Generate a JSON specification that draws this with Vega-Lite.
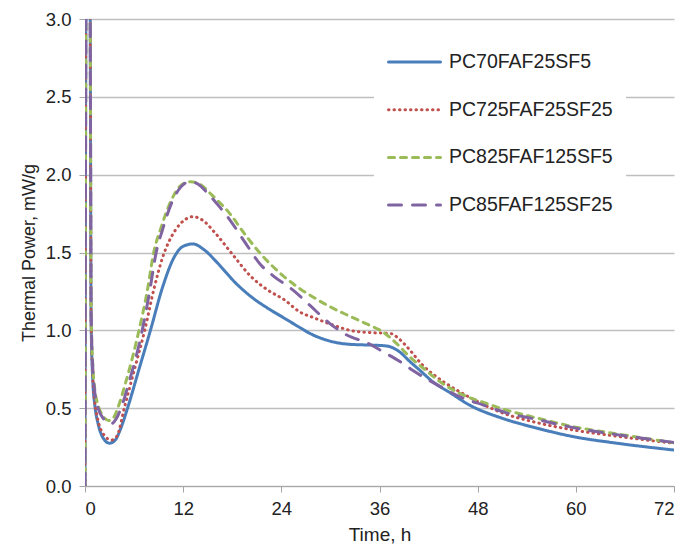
{
"$schema": "https://vega.github.io/schema/vega-lite/v6.json",
"width": 589, "height": 467,
"autosize": {"type": "none"},
"padding": {"left": 85, "top": 19, "right": 14, "bottom": 64},
"background": "white",
"config": {"font": "Liberation Sans", "view": {"stroke": null}},
"datasets": {"raw": [
{"s":"PC70FAF25SF5","t":0,"p":0},{"s":"PC70FAF25SF5","t":0.15,"p":3.4},{"s":"PC70FAF25SF5","t":0.6,"p":3.4},{"s":"PC70FAF25SF5","t":0.75,"p":1.05},{"s":"PC70FAF25SF5","t":0.95,"p":0.68},{"s":"PC70FAF25SF5","t":1.2,"p":0.52},{"s":"PC70FAF25SF5","t":1.6,"p":0.40},{"s":"PC70FAF25SF5","t":2.2,"p":0.31},{"s":"PC70FAF25SF5","t":3.0,"p":0.275},{"s":"PC70FAF25SF5","t":3.7,"p":0.295},{"s":"PC70FAF25SF5","t":4.3,"p":0.36},{"s":"PC70FAF25SF5","t":5.2,"p":0.5},{"s":"PC70FAF25SF5","t":6.6,"p":0.75},{"s":"PC70FAF25SF5","t":8.0,"p":1.0},{"s":"PC70FAF25SF5","t":9.5,"p":1.28},{"s":"PC70FAF25SF5","t":10.9,"p":1.47},{"s":"PC70FAF25SF5","t":12.0,"p":1.54},{"s":"PC70FAF25SF5","t":13.2,"p":1.555},{"s":"PC70FAF25SF5","t":14.5,"p":1.52},{"s":"PC70FAF25SF5","t":16.25,"p":1.43},{"s":"PC70FAF25SF5","t":18.3,"p":1.31},{"s":"PC70FAF25SF5","t":20.3,"p":1.216},{"s":"PC70FAF25SF5","t":22.4,"p":1.14},{"s":"PC70FAF25SF5","t":24.4,"p":1.077},{"s":"PC70FAF25SF5","t":26.2,"p":1.02},{"s":"PC70FAF25SF5","t":27.5,"p":0.98},{"s":"PC70FAF25SF5","t":30,"p":0.93},{"s":"PC70FAF25SF5","t":32.4,"p":0.91},{"s":"PC70FAF25SF5","t":35,"p":0.905},{"s":"PC70FAF25SF5","t":36.8,"p":0.9},{"s":"PC70FAF25SF5","t":38.5,"p":0.86},{"s":"PC70FAF25SF5","t":39.7,"p":0.8},{"s":"PC70FAF25SF5","t":40.9,"p":0.745},{"s":"PC70FAF25SF5","t":42.5,"p":0.67},{"s":"PC70FAF25SF5","t":44.6,"p":0.6},{"s":"PC70FAF25SF5","t":47,"p":0.52},{"s":"PC70FAF25SF5","t":51,"p":0.435},{"s":"PC70FAF25SF5","t":55,"p":0.375},{"s":"PC70FAF25SF5","t":59.7,"p":0.317},{"s":"PC70FAF25SF5","t":65,"p":0.275},{"s":"PC70FAF25SF5","t":72,"p":0.231},
{"s":"PC725FAF25SF25","t":0,"p":0},{"s":"PC725FAF25SF25","t":0.15,"p":3.4},{"s":"PC725FAF25SF25","t":0.6,"p":3.4},{"s":"PC725FAF25SF25","t":0.75,"p":1.05},{"s":"PC725FAF25SF25","t":0.95,"p":0.7},{"s":"PC725FAF25SF25","t":1.2,"p":0.54},{"s":"PC725FAF25SF25","t":1.6,"p":0.42},{"s":"PC725FAF25SF25","t":2.3,"p":0.33},{"s":"PC725FAF25SF25","t":3.2,"p":0.295},{"s":"PC725FAF25SF25","t":3.9,"p":0.32},{"s":"PC725FAF25SF25","t":4.8,"p":0.5},{"s":"PC725FAF25SF25","t":6.0,"p":0.74},{"s":"PC725FAF25SF25","t":7.3,"p":1.0},{"s":"PC725FAF25SF25","t":8.4,"p":1.26},{"s":"PC725FAF25SF25","t":9.5,"p":1.47},{"s":"PC725FAF25SF25","t":11,"p":1.64},{"s":"PC725FAF25SF25","t":12.2,"p":1.71},{"s":"PC725FAF25SF25","t":13.2,"p":1.73},{"s":"PC725FAF25SF25","t":14.3,"p":1.71},{"s":"PC725FAF25SF25","t":16,"p":1.62},{"s":"PC725FAF25SF25","t":18,"p":1.49},{"s":"PC725FAF25SF25","t":20.3,"p":1.345},{"s":"PC725FAF25SF25","t":22.3,"p":1.26},{"s":"PC725FAF25SF25","t":24.4,"p":1.195},{"s":"PC725FAF25SF25","t":26.2,"p":1.12},{"s":"PC725FAF25SF25","t":28,"p":1.08},{"s":"PC725FAF25SF25","t":30,"p":1.04},{"s":"PC725FAF25SF25","t":32.4,"p":1.0},{"s":"PC725FAF25SF25","t":35,"p":0.985},{"s":"PC725FAF25SF25","t":37.3,"p":0.98},{"s":"PC725FAF25SF25","t":38.5,"p":0.94},{"s":"PC725FAF25SF25","t":39.7,"p":0.874},{"s":"PC725FAF25SF25","t":41.2,"p":0.78},{"s":"PC725FAF25SF25","t":43,"p":0.70},{"s":"PC725FAF25SF25","t":45,"p":0.63},{"s":"PC725FAF25SF25","t":47,"p":0.57},{"s":"PC725FAF25SF25","t":51,"p":0.47},{"s":"PC725FAF25SF25","t":55,"p":0.41},{"s":"PC725FAF25SF25","t":59.7,"p":0.36},{"s":"PC725FAF25SF25","t":65,"p":0.32},{"s":"PC725FAF25SF25","t":72,"p":0.274},
{"s":"PC825FAF125SF5","t":0,"p":0},{"s":"PC825FAF125SF5","t":0.15,"p":3.4},{"s":"PC825FAF125SF5","t":0.6,"p":3.4},{"s":"PC825FAF125SF5","t":0.75,"p":1.1},{"s":"PC825FAF125SF5","t":0.95,"p":0.78},{"s":"PC825FAF125SF5","t":1.2,"p":0.62},{"s":"PC825FAF125SF5","t":1.6,"p":0.52},{"s":"PC825FAF125SF5","t":2.2,"p":0.45},{"s":"PC825FAF125SF5","t":2.9,"p":0.42},{"s":"PC825FAF125SF5","t":3.5,"p":0.44},{"s":"PC825FAF125SF5","t":4.0,"p":0.5},{"s":"PC825FAF125SF5","t":5.0,"p":0.67},{"s":"PC825FAF125SF5","t":6.6,"p":1.0},{"s":"PC825FAF125SF5","t":7.6,"p":1.25},{"s":"PC825FAF125SF5","t":8.4,"p":1.5},{"s":"PC825FAF125SF5","t":9.3,"p":1.66},{"s":"PC825FAF125SF5","t":10.5,"p":1.83},{"s":"PC825FAF125SF5","t":11.7,"p":1.93},{"s":"PC825FAF125SF5","t":12.9,"p":1.955},{"s":"PC825FAF125SF5","t":14,"p":1.94},{"s":"PC825FAF125SF5","t":15.5,"p":1.87},{"s":"PC825FAF125SF5","t":17.7,"p":1.75},{"s":"PC825FAF125SF5","t":19.5,"p":1.62},{"s":"PC825FAF125SF5","t":21.5,"p":1.49},{"s":"PC825FAF125SF5","t":24,"p":1.36},{"s":"PC825FAF125SF5","t":26.2,"p":1.27},{"s":"PC825FAF125SF5","t":28,"p":1.21},{"s":"PC825FAF125SF5","t":30,"p":1.15},{"s":"PC825FAF125SF5","t":32.4,"p":1.09},{"s":"PC825FAF125SF5","t":34.5,"p":1.04},{"s":"PC825FAF125SF5","t":36.4,"p":0.99},{"s":"PC825FAF125SF5","t":38,"p":0.92},{"s":"PC825FAF125SF5","t":39.7,"p":0.83},{"s":"PC825FAF125SF5","t":41.5,"p":0.75},{"s":"PC825FAF125SF5","t":43.4,"p":0.67},{"s":"PC825FAF125SF5","t":46,"p":0.59},{"s":"PC825FAF125SF5","t":49.1,"p":0.53},{"s":"PC825FAF125SF5","t":51.5,"p":0.488},{"s":"PC825FAF125SF5","t":55,"p":0.44},{"s":"PC825FAF125SF5","t":59.7,"p":0.381},{"s":"PC825FAF125SF5","t":65,"p":0.335},{"s":"PC825FAF125SF5","t":72,"p":0.278},
{"s":"PC85FAF125SF25","t":0,"p":0},{"s":"PC85FAF125SF25","t":0.15,"p":3.4},{"s":"PC85FAF125SF25","t":0.6,"p":3.4},{"s":"PC85FAF125SF25","t":0.75,"p":1.1},{"s":"PC85FAF125SF25","t":0.95,"p":0.76},{"s":"PC85FAF125SF25","t":1.2,"p":0.6},{"s":"PC85FAF125SF25","t":1.6,"p":0.5},{"s":"PC85FAF125SF25","t":2.3,"p":0.43},{"s":"PC85FAF125SF25","t":3.2,"p":0.40},{"s":"PC85FAF125SF25","t":3.8,"p":0.43},{"s":"PC85FAF125SF25","t":4.4,"p":0.5},{"s":"PC85FAF125SF25","t":5.4,"p":0.67},{"s":"PC85FAF125SF25","t":7.0,"p":1.0},{"s":"PC85FAF125SF25","t":7.9,"p":1.25},{"s":"PC85FAF125SF25","t":8.7,"p":1.5},{"s":"PC85FAF125SF25","t":9.5,"p":1.65},{"s":"PC85FAF125SF25","t":10.6,"p":1.82},{"s":"PC85FAF125SF25","t":11.7,"p":1.92},{"s":"PC85FAF125SF25","t":12.8,"p":1.955},{"s":"PC85FAF125SF25","t":13.8,"p":1.94},{"s":"PC85FAF125SF25","t":15,"p":1.88},{"s":"PC85FAF125SF25","t":16.5,"p":1.79},{"s":"PC85FAF125SF25","t":17.7,"p":1.71},{"s":"PC85FAF125SF25","t":19.5,"p":1.57},{"s":"PC85FAF125SF25","t":21.5,"p":1.42},{"s":"PC85FAF125SF25","t":23,"p":1.35},{"s":"PC85FAF125SF25","t":25.4,"p":1.26},{"s":"PC85FAF125SF25","t":27.5,"p":1.16},{"s":"PC85FAF125SF25","t":29.9,"p":1.045},{"s":"PC85FAF125SF25","t":32,"p":0.97},{"s":"PC85FAF125SF25","t":34.6,"p":0.917},{"s":"PC85FAF125SF25","t":36.5,"p":0.86},{"s":"PC85FAF125SF25","t":38.5,"p":0.80},{"s":"PC85FAF125SF25","t":40,"p":0.745},{"s":"PC85FAF125SF25","t":41.7,"p":0.69},{"s":"PC85FAF125SF25","t":43.4,"p":0.64},{"s":"PC85FAF125SF25","t":45.8,"p":0.574},{"s":"PC85FAF125SF25","t":48.7,"p":0.52},{"s":"PC85FAF125SF25","t":51.5,"p":0.47},{"s":"PC85FAF125SF25","t":55,"p":0.43},{"s":"PC85FAF125SF25","t":59.7,"p":0.375},{"s":"PC85FAF125SF25","t":65,"p":0.33},{"s":"PC85FAF125SF25","t":72,"p":0.28}
]},
"data": {"name": "raw"},
"mark": {"type": "line", "clip": true, "strokeWidth": 3, "strokeCap": "round", "interpolate": "monotone"},
"encoding": {
  "x": {"field": "t", "type": "quantitative",
    "scale": {"domain": [0, 72], "nice": false, "zero": false},
    "axis": {"values": [0, 12, 24, 36, 48, 60, 72], "title": "Time, h", "grid": false,
      "domainColor": "#a6a6a6", "tickColor": "#a6a6a6", "tickSize": 6,
      "labelFontSize": 18.5, "labelColor": "#222", "labelPadding": 7,
      "titleFontSize": 19, "titleFontWeight": "normal", "titleColor": "#222", "titlePadding": 8}},
  "y": {"field": "p", "type": "quantitative",
    "scale": {"domain": [0, 3], "nice": false},
    "axis": {"values": [0, 0.5, 1, 1.5, 2, 2.5, 3], "format": ".1f", "title": "Thermal Power, mW/g",
      "grid": true, "gridColor": "#bfbfbf", "gridWidth": 1.3,
      "domainColor": "#a6a6a6", "tickColor": "#a6a6a6", "tickSize": 6,
      "labelFontSize": 18.5, "labelColor": "#222", "labelPadding": 8,
      "titleFontSize": 18, "titleFontWeight": "normal", "titleColor": "#222", "titlePadding": 7}},
  "color": {"field": "s", "type": "nominal",
    "scale": {"domain": ["PC70FAF25SF5", "PC725FAF25SF25", "PC825FAF125SF5", "PC85FAF125SF25"],
      "range": ["#4a7ebb", "#c0504d", "#9bbb59", "#8064a2"]},
    "legend": {"title": null, "orient": "none", "legendX": 289, "legendY": 10,
      "symbolType": "stroke", "symbolSize": 2704, "symbolStrokeWidth": 3,
      "labelFontSize": 19.5, "labelColor": "#222", "labelOffset": 7, "labelLimit": 400,
      "clipHeight": 40, "rowPadding": 7.7, "padding": 13, "fillColor": "white",
      "encode": {"symbols": {"update": {"strokeCap": {"value": "round"}}}}}},
  "strokeDash": {"field": "s", "type": "nominal",
    "scale": {"domain": ["PC70FAF25SF5", "PC725FAF25SF25", "PC825FAF125SF5", "PC85FAF125SF25"],
      "range": [[1, 0], [0.5, 5], [6, 6], [13, 11]]},
    "legend": {"title": null, "orient": "none", "legendX": 289, "legendY": 10,
      "symbolType": "stroke", "symbolSize": 2704, "symbolStrokeWidth": 3,
      "labelFontSize": 19.5, "labelColor": "#222", "labelOffset": 7, "labelLimit": 400,
      "clipHeight": 40, "rowPadding": 7.7, "padding": 13, "fillColor": "white",
      "encode": {"symbols": {"update": {"strokeCap": {"value": "round"}}}}}}
}
}
